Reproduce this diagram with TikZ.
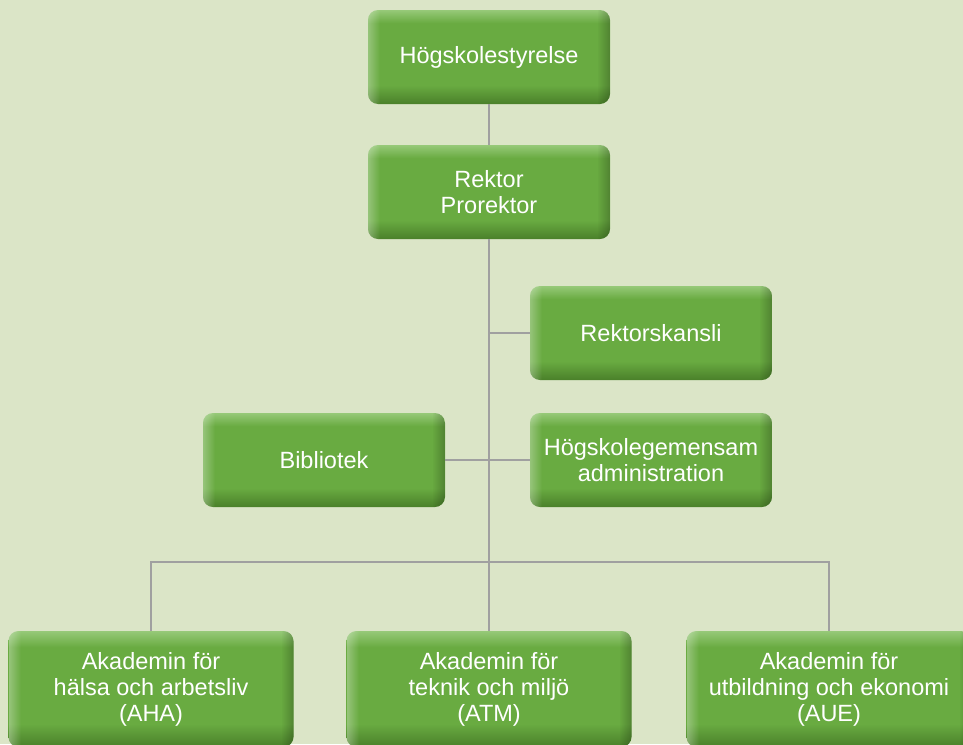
\documentclass[tikz,border=0pt]{standalone}
\usepackage{fontspec}
\setmainfont{Liberation Sans}
\usetikzlibrary{shapes.geometric, arrows}
\definecolor{bgcol}{RGB}{219,229,199}
\definecolor{grmain}{RGB}{105,171,65}
\definecolor{grlight}{RGB}{150,201,120}
\definecolor{grdark}{RGB}{74,128,42}
\definecolor{linecol}{RGB}{160,160,160}
\pgfdeclareverticalshading{boxshade}{100bp}{color(0bp)=(grdark); color(25bp)=(grdark); color(35bp)=(grmain); color(68bp)=(grmain); color(75bp)=(grlight); color(100bp)=(grlight)}
\tikzstyle{unit}=
[
	rectangle
	, rounded corners=10pt
	, minimum width=242pt
	, minimum height=94pt
	, shade
	, shading=boxshade
	, text=white
	, align=center
	, font=\fontsize{23.5}{26}\selectfont
	, path picture={
		\foreach \i in {0,...,11}{
			\fill[white, opacity={(12-\i)*0.025}, rounded corners=0pt]
				([xshift=\i pt]path picture bounding box.north west) rectangle ([xshift=\i pt+1pt]path picture bounding box.south west);
			\fill[black, opacity={(12-\i)*0.018}, rounded corners=0pt]
				([xshift=-\i pt]path picture bounding box.north east) rectangle ([xshift=-\i pt-1pt]path picture bounding box.south east);
		}
	}
]
\tikzstyle{akademi}=
[
	unit
	, minimum width=285pt
	, minimum height=116pt
]
\tikzstyle{line} = [line width=2pt, draw=linecol, -]

\begin{document}
\begin{tikzpicture}[x=1pt, y=-1pt, node distance=135pt]

\fill[bgcol](0,0) rectangle (963,744);
\useasboundingbox (0,0) rectangle (963,744);

\node(styr)[unit] at (489,57) {Högskolestyrelse};
\node(rektor)[unit, below of=styr]{Rektor\\Prorektor};
\node(kansli)[unit] at (651,333) {Rektorskansli};
\node(adm)[unit, below of=kansli, node distance=127pt]{Högskolegemensam\\administration};
\node(bibl)[unit, left of=adm, node distance=327pt]{Bibliotek};

\node(atm)[akademi] at (489,689) {Akademin för\\teknik och miljö\\(ATM)};
\node(aha)[akademi, left of=atm, node distance=338pt]{Akademin för\\hälsa och arbetsliv\\(AHA)};
\node(aue)[akademi, right of=atm, node distance=340pt]{Akademin för\\utbildning och ekonomi\\(AUE)};

\coordinate(hub) at (489,562);

\draw[line](styr)--(rektor);
\draw[line](rektor)--(hub);
\draw[line](rektor.south |- kansli)--(kansli);
\draw[line](bibl)--(adm);
\draw[line](hub)--(atm.north);
\draw[line](aha.north)|-(hub)-|(aue.north);

\end{tikzpicture}
\end{document}
